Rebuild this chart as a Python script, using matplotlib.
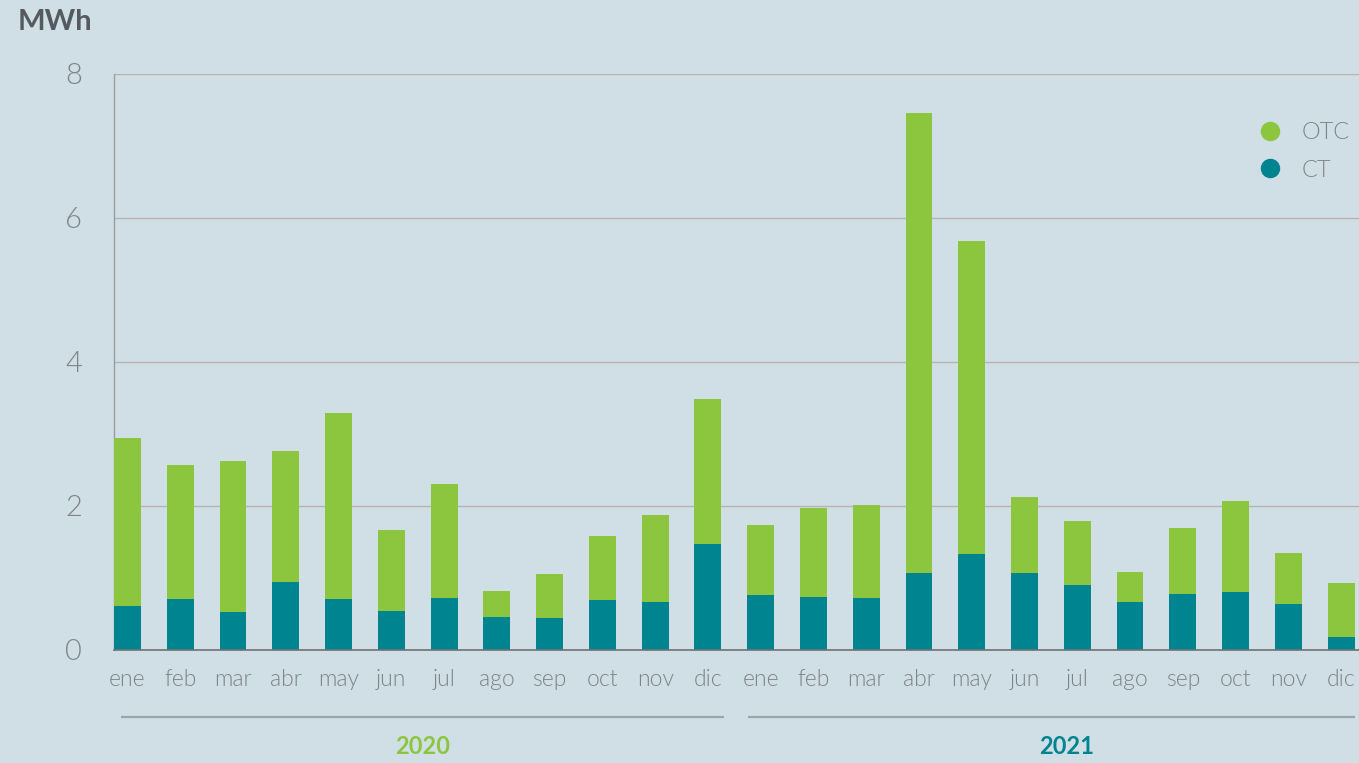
import matplotlib
matplotlib.use("Agg")
import matplotlib.pyplot as plt
from matplotlib.lines import Line2D
import numpy as np

months = ["ene", "feb", "mar", "abr", "may", "jun", "jul", "ago", "sep", "oct", "nov", "dic"]
years = ["2020", "2021"]
labels = months + months

ct = [0.61, 0.71, 0.53, 0.94, 0.71, 0.54, 0.72, 0.46, 0.44, 0.69, 0.67, 1.47,
      0.76, 0.74, 0.72, 1.07, 1.33, 1.07, 0.90, 0.67, 0.78, 0.81, 0.64, 0.18]
total = [2.94, 2.57, 2.63, 2.76, 3.29, 1.67, 2.31, 0.82, 1.06, 1.58, 1.875, 3.49,
         1.74, 1.97, 2.01, 7.46, 5.68, 2.125, 1.79, 1.08, 1.69, 2.07, 1.35, 0.93]
otc = [t - c for t, c in zip(total, ct)]

BG = "#cfdfe5"
GREEN = "#8cc63f"
TEAL = "#008490"
TXT = "#7d8489"

plt.rcParams["font.family"] = ["Lato", "DejaVu Sans"]

fig = plt.figure(figsize=(13.59, 7.63), dpi=100, facecolor=BG)
ax = fig.add_axes([114 / 1359, 1 - 650 / 763, 1 - 114 / 1359, (650 - 74) / 763])
ax.set_facecolor(BG)

x = np.arange(len(labels))
w = 0.51
ax.bar(x, ct, width=w, color=TEAL, zorder=3, label="CT")
ax.bar(x, otc, width=w, bottom=ct, color=GREEN, zorder=3, label="OTC")

ax.set_xlim(-0.256, 23.34)
ax.set_ylim(0, 8)
ax.set_yticks([0, 2, 4, 6, 8])
ax.set_xticks(x)
ax.set_xticklabels(labels)
ax.tick_params(axis="x", length=0, pad=14, labelsize=16.5, labelcolor=TXT)
ax.tick_params(axis="y", length=0, pad=23, labelsize=21, labelcolor=TXT)
for t in ax.get_xticklabels() + ax.get_yticklabels():
    t.set_fontweight(300)

ax.grid(axis="y", color="#b7b3b0", linewidth=1, zorder=0)
for s in ["top", "right"]:
    ax.spines[s].set_visible(False)
ax.spines["left"].set_color("#9a9fa3")
ax.spines["left"].set_linewidth(1)
ax.spines["bottom"].set_color("#6f7275")
ax.spines["bottom"].set_linewidth(1.2)
ax.spines["bottom"].set_zorder(4)

# Unit label
fig.text(18 / 1359, 1 - 22 / 763, "MWh", fontsize=21, fontweight="bold",
         color="#555a5e", va="center", ha="left")

# Year brackets below the month labels
trans = ax.get_xaxis_transform()
year_colors = [GREEN, TEAL]
spans = [(-0.12, 11.31), (11.76, 23.27)]
label_pos = [5.6, 17.8]
for yr, col, (a, b), lp in zip(years, year_colors, spans, label_pos):
    ax.plot([a, b], [-67 / 576, -67 / 576], transform=trans, color="#9ea5aa",
            linewidth=1.6, clip_on=False, solid_capstyle="butt")
    ax.text(lp, -97 / 576, yr, transform=trans, ha="center", va="center",
            fontsize=17, fontweight="bold", color=col)

# Legend
leg_handles = [Line2D([], [], marker="o", linestyle="", markersize=13,
                      markerfacecolor=GREEN, markeredgecolor=GREEN),
               Line2D([], [], marker="o", linestyle="", markersize=13,
                      markerfacecolor=TEAL, markeredgecolor=TEAL)]
leg = ax.legend(leg_handles, ["OTC", "CT"], loc="upper right",
                bbox_to_anchor=(1.006, 0.945), frameon=False, fontsize=17,
                labelcolor=TXT, handletextpad=0.75, labelspacing=0.7,
                borderaxespad=0.3, handlelength=1.2)
for t in leg.get_texts():
    t.set_fontweight(300)

fig.savefig("out.png", dpi=100, facecolor=BG)
